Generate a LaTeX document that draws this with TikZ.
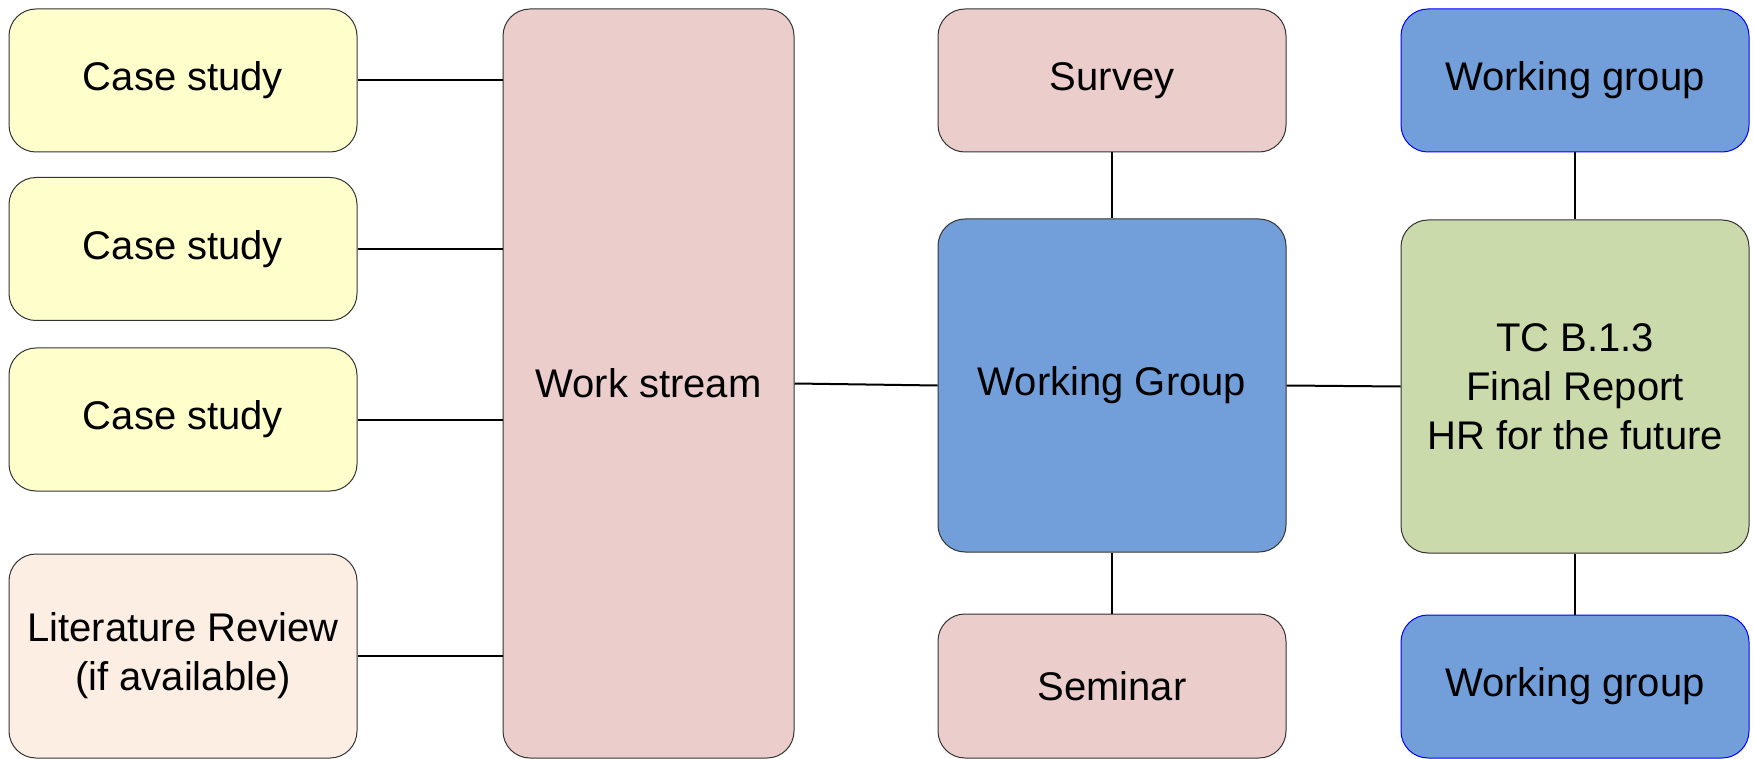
\documentclass[tikz,border=0pt]{standalone}
\usepackage{fontspec}
\setmainfont{Liberation Sans}
\usetikzlibrary{positioning}

\definecolor{caseyellow}{RGB}{255,255,204}
\definecolor{litpeach}{RGB}{253,238,228}
\definecolor{streampink}{RGB}{235,205,203}
\definecolor{groupblue}{RGB}{114,159,218}
\definecolor{reportgreen}{RGB}{203,218,170}

\begin{document}
\begin{tikzpicture}[x=1pt,y=-1pt,
    box/.style={draw=black!80,line width=1pt,rectangle,rounded corners=27pt,
        inner sep=0pt,align=center,font=\fontsize{40}{49}\selectfont},
    smallbox/.style={box,minimum width=348pt,minimum height=143pt},
    tallbox/.style={box,minimum width=348pt,minimum height=333pt},
    link/.style={line width=2pt,black}]

    \useasboundingbox (0,0) rectangle (1754,759);

    %left column, the case studies
    \node[smallbox,fill=caseyellow] (case1) at (183,80.5) {Case study};
    \node[smallbox,fill=caseyellow] (case2) at (183,249) {Case study};
    \node[smallbox,fill=caseyellow] (case3) at (183,419.5) {Case study};
    \node[box,fill=litpeach,minimum width=348pt,minimum height=204pt] (lit) at (183,656)
        {Literature Review\\(if available)};

    %the work stream in the middle
    \node[box,fill=streampink,minimum width=291pt,minimum height=749pt] (stream) at (648.5,383.5)
        {Work stream};

    %survey, working group and seminar
    \node[smallbox,fill=streampink] (survey) at (1112,80.5) {Survey};
    \node[tallbox,fill=groupblue] (group) at (1112,385.5) {Working Group};
    \node[smallbox,fill=streampink,minimum height=144pt] (seminar) at (1112,686) {Seminar};

    %right column, the final report
    \node[smallbox,fill=groupblue,draw=blue] (wgtop) at (1575,80.5) {Working group};
    \node[tallbox,fill=reportgreen] (report) at (1575,386.5)
        {TC B.1.3\\Final Report\\HR for the future};
    \node[smallbox,fill=groupblue,draw=blue] (wgbottom) at (1575,686.5) {Working group};

    %lines into the work stream
    \draw[link] (case1.east) -- (stream.west |- case1.east);
    \draw[link] (case2.east) -- (stream.west |- case2.east);
    \draw[link] (case3.east) -- (stream.west |- case3.east);
    \draw[link] (lit.east) -- (stream.west |- lit.east);

    %lines across
    \draw[link] (stream.east) -- (group.west);
    \draw[link] (group.east) -- (report.west);

    %vertical lines
    \draw[link] (survey.south) -- (group.north);
    \draw[link] (group.south) -- (seminar.north);
    \draw[link] (wgtop.south) -- (report.north);
    \draw[link] (report.south) -- (wgbottom.north);

\end{tikzpicture}
\end{document}
